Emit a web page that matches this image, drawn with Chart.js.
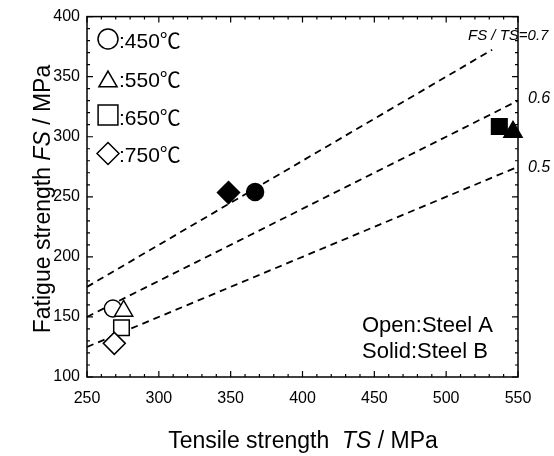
<!DOCTYPE html>
<html>
<head>
<meta charset="utf-8">
<script src="https://cdn.jsdelivr.net/npm/chart.js@4"></script>
<style>
  body { margin: 0; background: #fff; }
  canvas { display: block; }
</style>
</head>
<body>
<canvas id="chart" width="554" height="456"></canvas>
<script>
// temperatures and marker shapes (legend order)
const temps = ['450℃', '550℃', '650℃', '750℃'];
const shapes = ['circle', 'triangle', 'rect', 'rectRot'];

// open = steel A, solid = steel B (same order as temps)
const tsSteelA = [268, 275.5, 274, 269];
const fsSteelA = [157, 155, 141, 128];
const tsSteelB = [367, 546.5, 537, 348.5];
const fsSteelB = [254, 304, 308.5, 253.5];

// FS/TS ratio lines, end points
const ratios = ['0.7', '0.6', '0.5'];
const lineTS = [[250, 532], [250, 550], [250, 550]];
const lineFS = [[175, 372.4], [150, 330], [125, 275]];

const font = '"Liberation Sans", Arial, "Noto Sans CJK JP", sans-serif';
const markerSize = [8.5, 10.5, 11, 11];

function points(xs, ys) {
  return xs.map((v, i) => ({ x: v, y: ys[i] }));
}

const datasets = [
  {
    label: 'Steel A',
    data: points(tsSteelA, fsSteelA),
    pointStyle: shapes,
    pointRadius: markerSize,
    pointBackgroundColor: '#fff',
    pointBorderColor: '#000',
    pointBorderWidth: 1.5,
    clip: false
  },
  {
    label: 'Steel B',
    data: points(tsSteelB, fsSteelB),
    pointStyle: shapes,
    pointRadius: markerSize,
    pointBackgroundColor: '#000',
    pointBorderColor: '#000',
    pointBorderWidth: 1.5,
    clip: false
  }
];
ratios.forEach((r, i) => {
  datasets.push({
    type: 'line',
    label: 'FS/TS=' + r,
    data: points(lineTS[i], lineFS[i]),
    borderColor: '#000',
    borderWidth: 1.8,
    borderDash: [7, 5],
    pointRadius: 0,
    fill: false
  });
});

// frame, inward ticks, legend and texts
const decor = {
  id: 'decor',
  afterDraw(chart) {
    const ctx = chart.ctx;
    const a = chart.chartArea;
    const x = chart.scales.x, y = chart.scales.y;
    ctx.save();
    ctx.strokeStyle = '#000';
    ctx.lineWidth = 1.5;
    ctx.strokeRect(a.left, a.top, a.right - a.left, a.bottom - a.top);

    ctx.lineWidth = 1.2;
    ctx.beginPath();
    for (let v = x.min; v <= x.max; v += 10) {
      const px = x.getPixelForValue(v);
      const len = v % 50 === 0 ? 6 : 3;
      ctx.moveTo(px, a.bottom); ctx.lineTo(px, a.bottom - len);
      ctx.moveTo(px, a.top); ctx.lineTo(px, a.top + len);
    }
    for (let v = y.min; v <= y.max; v += 10) {
      const py = y.getPixelForValue(v);
      const len = v % 50 === 0 ? 6 : 3;
      ctx.moveTo(a.left, py); ctx.lineTo(a.left + len, py);
      ctx.moveTo(a.right, py); ctx.lineTo(a.right - len, py);
    }
    ctx.stroke();

    // legend
    const legY = [39, 81.5, 115, 153.5];
    const legR = [10, 10.5, 14, 11];
    const txtY = [48, 87, 125, 162];
    ctx.fillStyle = '#000';
    ctx.font = '21px ' + font;
    ctx.textBaseline = 'alphabetic';
    ctx.textAlign = 'left';
    temps.forEach((t, i) => {
      ctx.fillStyle = '#fff';
      ctx.strokeStyle = '#000';
      ctx.lineWidth = 1.5;
      Chart.helpers.drawPoint(ctx, { pointStyle: shapes[i], radius: legR[i], borderWidth: 1.5, rotation: 0 }, 108, legY[i]);
      ctx.fillStyle = '#000';
      ctx.fillText(':' + t, 119, txtY[i]);
    });

    ctx.font = '22px ' + font;
    ctx.fillText('Open:Steel A', 362, 332);
    ctx.fillText('Solid:Steel B', 362, 358);

    ctx.font = 'italic 15px ' + font;
    ctx.fillText('FS / TS=0.7', 468, 40);
    ctx.font = 'italic 16px ' + font;
    ctx.fillText('0.6', 528, 103);
    ctx.fillText('0.5', 528, 172);

    // axis titles with italic symbol
    const title = (parts) => {
      let w = 0;
      parts.forEach(p => { ctx.font = (p[1] ? 'italic ' : '') + '23px ' + font; w += ctx.measureText(p[0]).width; });
      return w;
    };
    const drawParts = (parts, x0, y0) => {
      let cx = x0;
      parts.forEach(p => {
        ctx.font = (p[1] ? 'italic ' : '') + '23px ' + font;
        ctx.fillText(p[0], cx, y0);
        cx += ctx.measureText(p[0]).width;
      });
    };
    const xt = [['Tensile strength  ', false], ['TS', true], [' / MPa', false]];
    drawParts(xt, 303 - title(xt) / 2, 448);
    const yt = [['Fatigue strength ', false], ['FS', true], [' / MPa', false]];
    ctx.save();
    ctx.translate(50, 199);
    ctx.rotate(-Math.PI / 2);
    drawParts(yt, -title(yt) / 2, 0);
    ctx.restore();
    ctx.restore();
  }
};

new Chart(document.getElementById('chart'), {
  type: 'scatter',
  data: { datasets: datasets },
  options: {
    responsive: false,
    animation: false,
    devicePixelRatio: 1,
    layout: { padding: { left: 0, top: 13, right: 36, bottom: 0 } },
    plugins: { legend: { display: false }, tooltip: { enabled: false } },
    scales: {
      x: {
        type: 'linear', min: 250, max: 550,
        grid: { display: false, drawTicks: false },
        border: { display: false },
        ticks: { stepSize: 50, padding: 12, color: '#000', font: { size: 16, family: font } },
        afterFit: s => { s.height = 79; }
      },
      y: {
        type: 'linear', min: 100, max: 400,
        grid: { display: false, drawTicks: false },
        border: { display: false },
        ticks: { stepSize: 50, padding: 7, color: '#000', font: { size: 16, family: font } },
        afterFit: s => { s.width = 87; }
      }
    }
  },
  plugins: [decor]
});
</script>
</body>
</html>
